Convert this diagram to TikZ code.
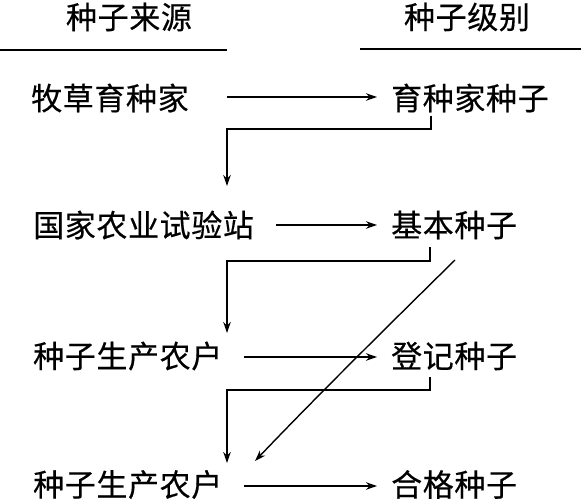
\documentclass[tikz,border=0pt]{standalone}
\usepackage{fontspec}
\newfontfamily\cjk[LetterSpace=2,FakeBold=0.4]{Noto Sans CJK SC}
\usetikzlibrary{arrows.meta}
\begin{document}
\begin{tikzpicture}[x=1pt,y=-1pt,
  lbl/.style={font=\cjk\fontsize{31pt}{31pt}\selectfont, inner sep=0pt, anchor=west},
  hdr/.style={font=\cjk\fontsize{31pt}{31pt}\selectfont, inner sep=0pt},
  conn/.style={line width=1.4pt},
  arr/.style={conn, -{Stealth[length=11pt,width=7.5pt]}}]
\useasboundingbox (0,0) rectangle (581,500);
% headers
\node[hdr] (h1) at (129,17) {种子来源};
\node[hdr] (h2) at (467,17) {种子级别};
\coordinate (l1a) at (0,50); \coordinate (l1b) at (227,50);
\coordinate (l2a) at (360,49); \coordinate (l2b) at (581,49);
\draw[line width=1.6pt] (l1a) -- (l1b);
\draw[line width=1.6pt] (l2a) -- (l2b);
% rows
\node[lbl] (s1) at (31,98) {牧草育种家};
\node[lbl] (g1) at (391,98) {育种家种子};
\node[lbl] (s2) at (33,225) {国家农业试验站};
\node[lbl] (g2) at (391,225) {基本种子};
\node[lbl] (s3) at (33,356) {种子生产农户};
\node[lbl] (g3) at (391,356) {登记种子};
\node[lbl] (s4) at (33,484.5) {种子生产农户};
\node[lbl] (g4) at (391,484.5) {合格种子};
% arrow end points just before the right-hand texts
\coordinate (a1) at (227,97);  \coordinate (b1) at (377,97);
\coordinate (a2) at (276,225); \coordinate (b2) at (377,225);
\coordinate (a3) at (244,357); \coordinate (b3) at (377,357);
\coordinate (a4) at (244,486); \coordinate (b4) at (377,486);
\draw[arr] (a1) -- (b1);
\draw[arr] (a2) -- (b2);
\draw[arr] (a3) -- (b3);
\draw[arr] (a4) -- (b4);
% elbows
\coordinate (e1) at (431,116); \coordinate (t1) at (227,186);
\draw[arr] (e1) |- (t1 |- 0,129) -- (t1);
\coordinate (e2) at (430,247); \coordinate (t2) at (227,333);
\draw[arr] (e2) |- (t2 |- 0,261) -- (t2);
\coordinate (e3) at (430,377); \coordinate (t3) at (227,463);
\draw[arr] (e3) |- (t3 |- 0,390) -- (t3);
% diagonal
\coordinate (d1) at (455,260); \coordinate (d2) at (255,461);
\draw[arr] (d1) .. controls (392,322) and (318,395) .. (d2);
\end{tikzpicture}
\end{document}
